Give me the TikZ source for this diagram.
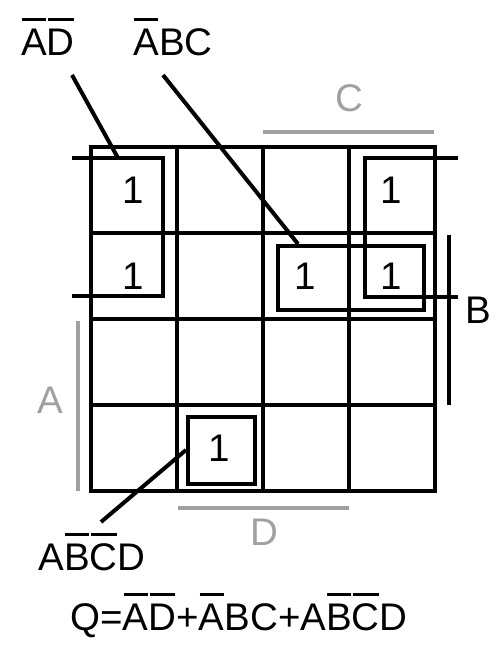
\documentclass[tikz,border=0pt]{standalone}
\usepackage{fontspec}
\setmainfont{Liberation Sans}
\newcommand\ob[1]{\setbox0\hbox{#1}\rlap{\hspace{1pt}\rule[34pt]{\dimexpr\wd0-2pt\relax}{3.3pt}}\box0}
\definecolor{lblgray}{RGB}{160,160,160}
\begin{document}
\begin{tikzpicture}[x=1pt,y=-1pt,
  txt/.style={inner sep=0pt,font=\fontsize{38.5}{40}\selectfont},
  lbl/.style={txt,anchor=base},
  one/.style={txt,anchor=center},
  grid/.style={line width=4pt,line cap=rect},
  group/.style={line width=4pt},
  leader/.style={line width=4pt},
  glbl/.style={lbl,text=lblgray},
  gline/.style={line width=3.5pt,draw=lblgray},
  bline/.style={line width=3.5pt,draw=black}]
\useasboundingbox (0,0) rectangle (501,659);
% grid
\foreach \i in {0,...,4} {
  \draw[grid] ({90.5+86*\i},147) -- ({90.5+86*\i},491);
  \draw[grid] (90.5,{147+86*\i}) -- (434.5,{147+86*\i});
}
% ones
\node[one] (c11) at (133.5,190) {1};
\node[one] (c21) at (133.5,276) {1};
\node[one] (c23) at (305.5,276) {1};
\node[one] (c14) at (391.5,190) {1};
\node[one] (c24) at (391.5,276) {1};
\node[one] (c42) at (219.5,448) {1};
% group boxes
\draw[group] (72,158) -- (163,158) -- (163,296) -- (72,296);
\draw[group] (458,158) -- (365,158) -- (365,297) -- (458,297);
\node[draw,group,minimum width=146pt,minimum height=64pt,inner sep=0pt,anchor=north west] (abcbox) at (276,244) {};
\node[draw,group,minimum width=67pt,minimum height=67pt,inner sep=0pt,anchor=north west] (abcdbox) at (186,415) {};
\coordinate (adend) at (118,158);
% variable labels
\draw[gline] (263,132) -- (434,132);
\node[glbl] (lc) at (349,111) {C};
\draw[gline] (178,508) -- (349,508);
\node[glbl] (ld) at (264,545) {D};
\draw[gline] (78,321) -- (78,491);
\node[glbl] (la) at (50,413) {A};
\draw[bline] (449,235) -- (449,405);
\node[lbl] (lb) at (478,323) {B};
% term labels
\node[lbl] (tad) at (48,55) {\ob{A}\ob{D}};
\node[lbl] (tabc) at (173,55) {\ob{A}BC};
\node[lbl] (tabcd) at (92,570) {A\ob{B}\ob{C}D};
\coordinate (tads) at (72,75);
\coordinate (tabcs) at (163,75);
\coordinate (tabcds) at (101,522);
\draw[leader] (tads) -- (adend);
\draw[leader] (tabcs) -- ([xshift=22pt]abcbox.north west);
\draw[leader] (tabcds) -- ([yshift=-35pt]abcdbox.north west);
% equation
\node[lbl] (eq) at (239,630) {Q=\ob{A}\ob{D}+\ob{A}BC+A\ob{B}\ob{C}D};
\end{tikzpicture}
\end{document}
